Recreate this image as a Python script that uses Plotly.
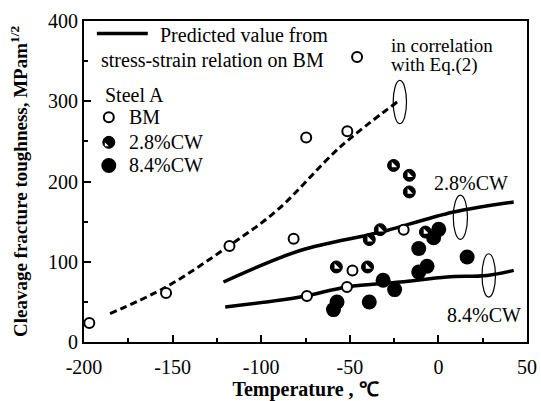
import plotly.graph_objects as go

# measured points, Steel A
bm_temp = [-197, -153.7, -117.9, -81.7, -74.6, -74.2, -51.4, -51.6, -48.5, -45.9, -19.6]
bm_kc = [23.7, 61, 119.6, 128.8, 254.7, 57.3, 262.5, 68.5, 89, 355, 140]

cw28_temp = [-57.6, -40, -39, -32.8, -25.3, -16.4, -16.4, -7.3]
cw28_kc = [93.5, 93.5, 127.6, 140, 220, 207.7, 187, 137]

cw84_temp = [-59.2, -57.2, -39, -31.2, -24.7, -11.1, -11.1, -6.4, -2.7, 0.2, 16.2]
cw84_kc = [40.4, 49.8, 49.8, 76.9, 65.3, 116.4, 87.2, 94.3, 130, 140.4, 106]

# predicted curves
pred_bm_temp = [-185.3, -153.7, -118, -91.1, -55.4, -23.3]
pred_bm_kc = [35.4, 68.5, 120, 164, 243, 299]
pred_28_temp = [-121.3, -78, -40.3, -29, 8.6, 42.5]
pred_28_kc = [74.8, 114, 133, 139, 162, 174.5]
pred_84_temp = [-120.3, -78, -51.6, -21.5, 4.9, 27.5, 42.5]
pred_84_kc = [43.6, 56, 68.5, 74.8, 81, 83, 89.3]

x_ticks = [-200, -150, -100, -50, 0, 50]
x_ticktext = ["-200", "-150", "-100", "-50", "0", "50"]
y_ticks = [0, 100, 200, 300, 400]

SERIF = "Liberation Serif, Times New Roman, serif"

fig = go.Figure()

fig.add_trace(go.Scatter(x=pred_bm_temp, y=pred_bm_kc, mode="lines",
                         line=dict(color="black", width=3, dash="7px,4px", shape="spline")))
fig.add_trace(go.Scatter(x=pred_28_temp, y=pred_28_kc, mode="lines",
                         line=dict(color="black", width=3.5, shape="spline")))
fig.add_trace(go.Scatter(x=pred_84_temp, y=pred_84_kc, mode="lines",
                         line=dict(color="black", width=3.5, shape="spline")))

fig.add_trace(go.Scatter(x=bm_temp, y=bm_kc, mode="markers",
                         marker=dict(symbol="circle", size=10, color="white",
                                     line=dict(color="black", width=2))))
# half filled: black disc with a white wedge
fig.add_trace(go.Scatter(x=cw28_temp, y=cw28_kc, mode="markers",
                         marker=dict(symbol="circle", size=12, color="black",
                                     line=dict(color="black", width=1))))
fig.add_trace(go.Scatter(x=cw28_temp, y=cw28_kc, mode="markers",
                         marker=dict(symbol="triangle-sw", size=6, color="white",
                                     line=dict(width=0))))
fig.add_trace(go.Scatter(x=cw84_temp, y=cw84_kc, mode="markers",
                         marker=dict(symbol="circle", size=15, color="black",
                                     line=dict(width=0))))

# ellipses marking where the predictions were matched
shapes = [
    dict(type="circle", xref="x", yref="y", x0=-25.5, x1=-18, y0=272, y1=326),
    dict(type="circle", xref="x", yref="y", x0=8.4, x1=16.4, y0=128, y1=183),
    dict(type="circle", xref="x", yref="y", x0=24.6, x1=32.2, y0=56, y1=110),
]
for s in shapes:
    s["line"] = dict(color="black", width=1.2)

# hand-drawn legend
shapes.append(dict(type="line", xref="paper", yref="paper", x0=0.029, x1=0.144,
                   y0=0.961, y1=0.961, line=dict(color="black", width=3.5)))


def legend_disc(py, size, fill, lw):
    return dict(type="circle", xref="paper", yref="paper", xsizemode="pixel",
                ysizemode="pixel", xanchor=0.056, yanchor=py,
                x0=-size / 2, x1=size / 2, y0=-size / 2, y1=size / 2,
                fillcolor=fill, line=dict(color="black", width=lw))


shapes.append(legend_disc(0.700, 10, "white", 2))
shapes.append(legend_disc(0.622, 12, "black", 1))
shapes.append(dict(type="path", xref="paper", yref="paper", xsizemode="pixel",
                   ysizemode="pixel", xanchor=0.056, yanchor=0.622,
                   path="M 0,-4 L -4,-4 L -4,0 Z", fillcolor="white",
                   line=dict(width=0)))
shapes.append(legend_disc(0.550, 15, "black", 0))

tfont = dict(family=SERIF, size=20, color="black")
annotations = [
    dict(text="Predicted value from", x=0.167, y=0.955),
    dict(text="stress-strain relation on BM", x=0.034, y=0.878),
    dict(text="Steel A", x=0.043, y=0.769),
    dict(text="BM", x=0.097, y=0.700),
    dict(text="2.8%CW", x=0.097, y=0.622),
    dict(text="8.4%CW", x=0.097, y=0.550),
    dict(text="in correlation", x=0.688, y=0.924, font=dict(family=SERIF, size=19)),
    dict(text="with Eq.(2)", x=0.688, y=0.862, font=dict(family=SERIF, size=19)),
    dict(text="2.8%CW", x=0.785, y=0.494),
    dict(text="8.4%CW", x=0.815, y=0.083),
]
for a in annotations:
    a.setdefault("font", tfont)
    a.update(xref="paper", yref="paper", xanchor="left", yanchor="middle",
             showarrow=False)

fig.update_layout(
    width=541, height=401,
    margin=dict(l=84, r=14, t=21, b=59),
    plot_bgcolor="white", paper_bgcolor="white",
    showlegend=False,
    shapes=shapes, annotations=annotations,
    font=tfont,
)
fig.update_xaxes(
    range=[-200, 50], tickvals=x_ticks, ticktext=x_ticktext,
    ticks="inside", ticklen=7, tickwidth=1.5, tickcolor="black",
    minor=dict(dtick=25, ticks="inside", ticklen=4, tickwidth=1.5, tickcolor="black"),
    showline=True, linecolor="black", linewidth=2, mirror=True,
    showgrid=False, zeroline=False, ticklabelstandoff=6, automargin=False,
    title=dict(text="Temperature , ℃", font=dict(family=SERIF, size=20, weight="bold")),
)
fig.update_yaxes(
    range=[0, 400], tickvals=y_ticks,
    ticks="inside", ticklen=7, tickwidth=1.5, tickcolor="black",
    minor=dict(dtick=50, ticks="inside", ticklen=4, tickwidth=1.5, tickcolor="black"),
    showline=True, linecolor="black", linewidth=2, mirror=True,
    showgrid=False, zeroline=False, automargin=False,
    title=dict(text="Cleavage fracture toughness, MPam<sup>1/2</sup>",
               font=dict(family=SERIF, size=19, weight="bold")),
)

# drop the browser's default page margin so the figure sits at the window origin
fig.write_html("out.html",
               config={"displayModeBar": False},
               post_script="document.body.style.margin='0';document.body.style.overflow='hidden';")
